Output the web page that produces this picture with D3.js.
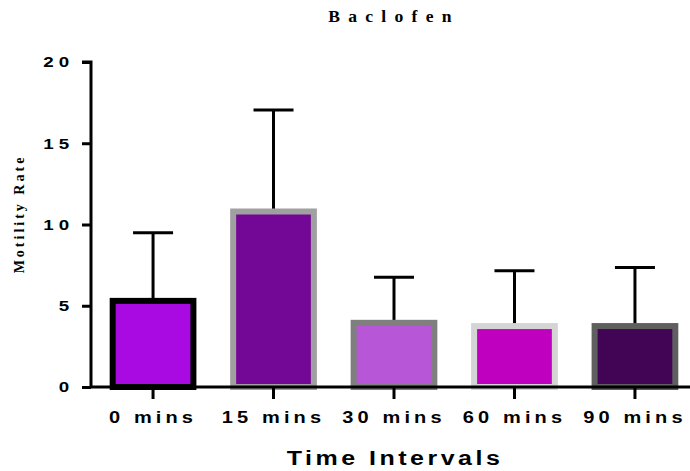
<!DOCTYPE html>
<html>
<head>
<meta charset="utf-8">
<script src="https://cdn.jsdelivr.net/npm/d3@7"></script>
<style>
  body { margin: 0; background: #fff; }
  .tick text { font-family: "Liberation Sans", Arial, sans-serif; font-weight: bold; }
</style>
</head>
<body>
<script>
// chart data
var categories = ["0 mins", "15 mins", "30 mins", "60 mins", "90 mins"];
var means = [5.3, 10.8, 3.95, 3.75, 3.75];
var sds = [4.2, 6.25, 2.8, 3.4, 3.6];
var fills = ["#a90ae2", "#740896", "#b756d6", "#bf00bf", "#420555"];
var strokes = ["#000000", "#a0a0a0", "#7f7f7f", "#d4d4d4", "#5f5f5f"];
var yTicks = [0, 5, 10, 15, 20];

var W = 690, H = 471;
var pLeft = 91, pTop = 62, pBottom = 387, pRight = 697;
var sx = 1.25; // the original text looks stretched sideways

var svg = d3.select("body").append("svg")
    .attr("width", W).attr("height", H);

var x = d3.scaleBand().domain(categories)
    .range([pLeft, pRight]).paddingInner(0.33).paddingOuter(0.18);
var y = d3.scaleLinear().domain([0, 20]).range([pBottom, pTop]);

var rows = categories.map(function(c, i){
    return {cat: c, mean: means[i], sd: sds[i], fill: fills[i], stroke: strokes[i]};
});

// error bars (upper only) drawn first so bars cover the stem
var err = svg.append("g");
rows.forEach(function(d){
    var cx = x(d.cat) + x.bandwidth() / 2;
    err.append("line")
        .attr("x1", cx).attr("x2", cx)
        .attr("y1", y(d.mean)).attr("y2", y(d.mean + d.sd))
        .attr("stroke", "#000").attr("stroke-width", 3);
    err.append("line")
        .attr("x1", cx - 20).attr("x2", cx + 20)
        .attr("y1", y(d.mean + d.sd)).attr("y2", y(d.mean + d.sd))
        .attr("stroke", "#000").attr("stroke-width", 3);
});

// bars
svg.append("g").selectAll("rect").data(rows).join("rect")
    .attr("x", function(d){ return x(d.cat); })
    .attr("width", x.bandwidth())
    .attr("y", function(d){ return y(d.mean); })
    .attr("height", function(d){ return pBottom - y(d.mean); })
    .attr("fill", function(d){ return d.fill; })
    .attr("stroke", function(d){ return d.stroke; })
    .attr("stroke-width", 6);

// y axis
var yAxis = svg.append("g")
    .attr("transform", "translate(" + pLeft + ",0)")
    .call(d3.axisLeft(y).tickValues(yTicks).tickSize(9));
yAxis.select(".domain").attr("stroke-width", 3).attr("d", "M-9," + pTop + "H0V" + pBottom);
yAxis.selectAll(".tick line").attr("stroke-width", 3);
yAxis.selectAll(".tick text")
    .attr("x", -13.5)
    .attr("transform", "scale(" + sx + ",1)")
    .style("font-size", "15px").attr("letter-spacing", "4px")
    .attr("fill", "#000");

// x axis
var xAxis = svg.append("g")
    .attr("transform", "translate(0," + pBottom + ")")
    .call(d3.axisBottom(x).tickSize(12).tickPadding(13));
xAxis.select(".domain").attr("stroke-width", 3).attr("d", "M" + pLeft + ",0H" + pRight);
xAxis.selectAll(".tick line").attr("stroke-width", 3);
xAxis.selectAll(".tick text")
    .attr("transform", "scale(" + sx + ",1)")
    .style("font-size", "16px").attr("letter-spacing", "3.3px")
    .attr("fill", "#000");

// title
svg.append("text")
    .attr("transform", "translate(394,22) scale(1.1,1)")
    .attr("text-anchor", "middle")
    .attr("font-family", "Liberation Serif, Times New Roman, serif")
    .attr("font-weight", "bold").attr("font-size", 16)
    .attr("letter-spacing", "7.5px")
    .text("Baclofen");

// y label
svg.append("text")
    .attr("transform", "translate(24,214) rotate(-90)")
    .attr("text-anchor", "middle")
    .attr("font-family", "Liberation Serif, Times New Roman, serif")
    .attr("font-weight", "bold").attr("font-size", 14)
    .attr("letter-spacing", "3px")
    .text("Motility Rate");

// x label
svg.append("text")
    .attr("transform", "translate(395,465) scale(" + sx + ",1)")
    .attr("text-anchor", "middle")
    .attr("font-family", "Liberation Sans, Arial, sans-serif")
    .attr("font-weight", "bold").attr("font-size", 20)
    .attr("letter-spacing", "2.8px")
    .text("Time Intervals");
</script>
</body>
</html>
